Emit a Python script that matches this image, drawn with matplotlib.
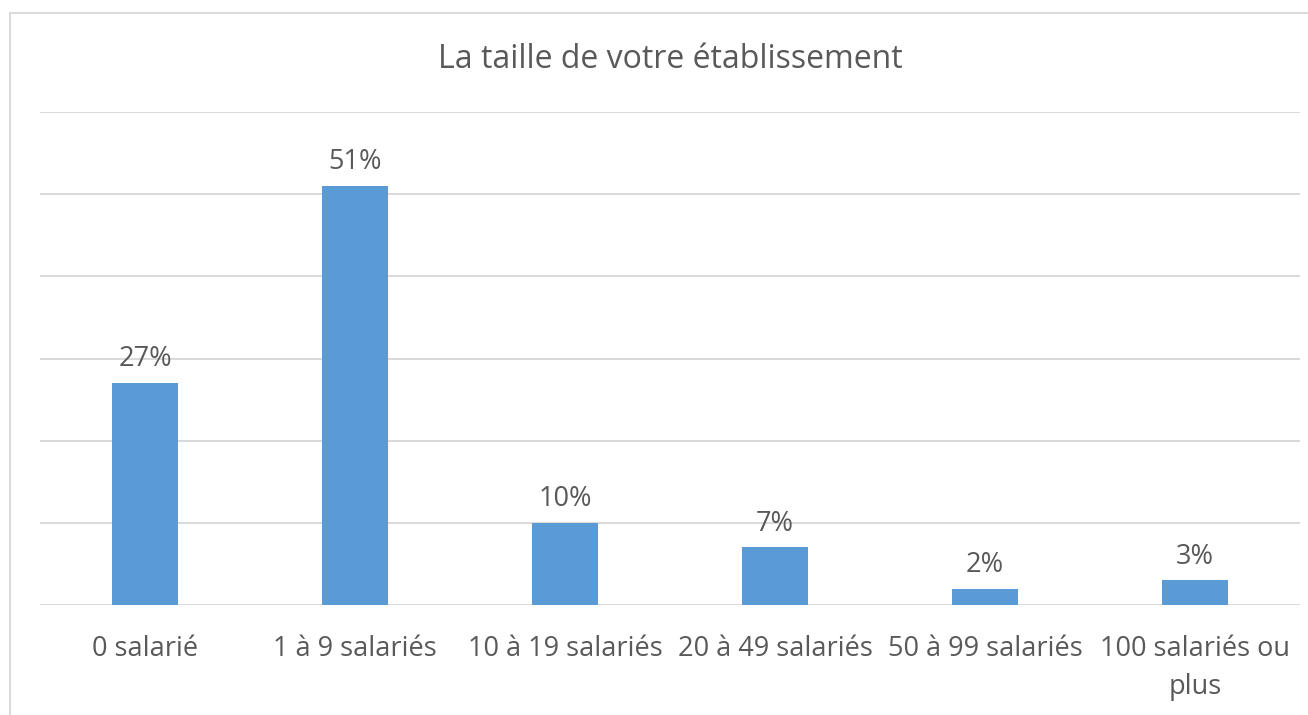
import matplotlib.pyplot as plt
from matplotlib.patches import Rectangle
import numpy as np

# data
categories = ["0 salarié", "1 à 9 salariés", "10 à 19 salariés", "20 à 49 salariés",
              "50 à 99 salariés", "100 salariés ou\nplus"]
values = [27, 51, 10, 7, 2, 3]
title = "La taille de votre établissement"

W, H = 1308, 715
plt.rcParams['font.family'] = ['Open Sans', 'DejaVu Sans']
text_color = '#595959'

fig = plt.figure(figsize=(W / 100, H / 100), dpi=100)
ax = fig.add_axes([40 / W, 1 - 605 / H, 1260 / W, (605 - 112) / H])

x = np.arange(len(categories))
ax.bar(x, values, width=0.314, color='#5b9bd5', zorder=3)
for xi, v in zip(x, values):
    ax.annotate(f"{v}%", (xi, v), xytext=(0, 7), textcoords='offset points',
                ha='center', va='bottom', fontsize=19.5, color=text_color)

ax.set_xlim(-0.5, len(categories) - 0.5)
ax.set_ylim(0, 60)
ax.set_yticks(np.arange(0, 61, 10))
ax.yaxis.grid(True, color='#d9d9d9', linewidth=1.4, zorder=0)
ax.tick_params(axis='y', left=False, labelleft=False)
ax.tick_params(axis='x', bottom=False, pad=18)
ax.set_xticks(x)
ax.set_xticklabels(categories, fontsize=19.5, color=text_color, linespacing=1.5)
for s in ax.spines.values():
    s.set_visible(False)

fig.text(670 / W, 1 - 59 / H, title, ha='center', va='center', fontsize=23, color=text_color)

# chart frame
fig.patches.append(Rectangle((10 / W, -0.1), 1.2, 1.1 - 13 / H, transform=fig.transFigure,
                             fill=False, edgecolor='#d9d9d9', linewidth=1.4))

fig.savefig("out.png", dpi=100)
